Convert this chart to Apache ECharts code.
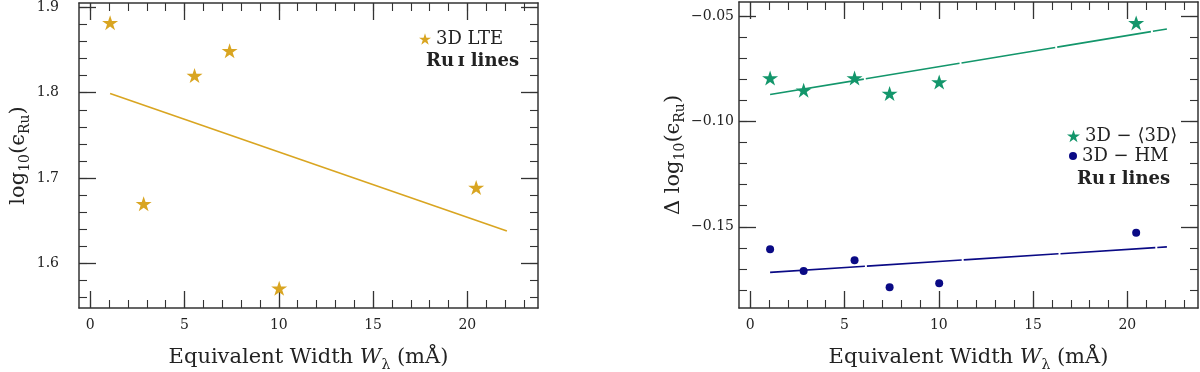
<!DOCTYPE html>
<html>
<head>
<meta charset="utf-8">
<script src="https://cdn.jsdelivr.net/npm/echarts@6/dist/echarts.min.js"></script>
<style>
  html, body { margin: 0; padding: 0; background: #fff; }
  #main { width: 1200px; height: 372px; }
</style>
</head>
<body>
<div id="main"></div>
<script>
// equivalent widths of the Ru I lines (mA)
var ewRu = [1.05, 2.83, 5.53, 7.39, 10.02, 20.47];
// left panel: 3D LTE abundances
var logLTE = [1.882, 1.670, 1.820, 1.849, 1.571, 1.689];
// right panel: abundance differences
var d3D = [-0.0794, -0.0852, -0.0794, -0.0868, -0.0813, -0.0533];
var dHM = [-0.1607, -0.1709, -0.1658, -0.1787, -0.1768, -0.1528];
// fitted lines (end points)
var fitX = [1.05, 22.1];
var fitLTE = [1.799, 1.638];
var fit3D = [-0.0873, -0.0562];
var fitHM = [-0.1716, -0.1595];
// ticks
var xMajor = [0, 5, 10, 15, 20];
var yMajorL = [1.6, 1.7, 1.8, 1.9];
var yMajorR = [-0.15, -0.10, -0.05];

var gold = '#d9a521';
var green = '#13966b';
var navy = '#0a0a85';
var ink = '#333';
var serif = 'DejaVu Serif';

function range(a, b, step) {
  var out = [];
  for (var v = a; v <= b + step / 2; v += step) out.push(+v.toFixed(4));
  return out;
}
var xMinor = range(0, 23, 1);
var yMinorL = range(1.56, 1.90, 0.02);
var yMinorR = range(-0.18, -0.05, 0.01);

// 5 point star marker
function starPath() {
  var pts = [];
  for (var i = 0; i < 10; i++) {
    var r = i % 2 ? 0.382 : 1;
    var a = (-90 + 36 * i) * Math.PI / 180;
    pts.push((50 + 50 * r * Math.cos(a)).toFixed(2) + ' ' + (50 + 50 * r * Math.sin(a)).toFixed(2));
  }
  return 'path://M' + pts.join(' L') + ' Z';
}
var star = starPath();

function pairs(xs, ys) {
  return xs.map(function (x, i) { return [x, ys[i]]; });
}

var xRange = { min: -0.6, max: 23.75 };
var frame = { show: true, onZero: false, lineStyle: { color: ink, width: 1.5 } };
var noLine = { show: false, onZero: false };

function xAxes(grid) {
  var base = { type: 'value', gridIndex: grid, min: xRange.min, max: xRange.max, splitLine: { show: false } };
  return [
    Object.assign({}, base, {
      position: 'bottom',
      axisLine: frame,
      axisTick: { show: true, inside: true, length: 17, customValues: xMajor, lineStyle: { color: ink, width: 1.3 } },
      axisLabel: { show: true, customValues: xMajor, margin: 10, fontFamily: serif, fontSize: 14, color: '#222' },
      name: '{n|Equivalent Width }{i|W}{s|λ}{n| (mÅ)}',
      nameLocation: 'middle',
      nameGap: 36,
      nameTextStyle: {
        rich: {
          n: { fontFamily: serif, fontSize: 21, color: '#222', lineHeight: 28 },
          i: { fontFamily: serif, fontSize: 21, fontStyle: 'italic', color: '#222', lineHeight: 28 },
          s: { fontFamily: serif, fontSize: 14, color: '#222', lineHeight: 12, verticalAlign: 'bottom' }
        }
      }
    }),
    Object.assign({}, base, {
      position: 'bottom',
      axisLine: noLine,
      axisTick: { show: true, inside: true, length: 8, customValues: xMinor, lineStyle: { color: ink, width: 1.1 } },
      axisLabel: { show: false }
    }),
    Object.assign({}, base, {
      position: 'top',
      axisLine: frame,
      axisTick: { show: true, inside: true, length: 17, customValues: xMajor, lineStyle: { color: ink, width: 1.3 } },
      axisLabel: { show: false }
    }),
    Object.assign({}, base, {
      position: 'top',
      axisLine: noLine,
      axisTick: { show: true, inside: true, length: 8, customValues: xMinor, lineStyle: { color: ink, width: 1.1 } },
      axisLabel: { show: false }
    })
  ];
}

function yAxes(grid, min, max, major, minor, digits, labelMargin, name, nameGap) {
  var base = { type: 'value', gridIndex: grid, min: min, max: max, splitLine: { show: false } };
  return [
    Object.assign({}, base, {
      position: 'left',
      axisLine: frame,
      axisTick: { show: true, inside: true, length: 17, customValues: major, lineStyle: { color: ink, width: 1.3 } },
      axisLabel: {
        show: true, customValues: major, margin: labelMargin, fontFamily: serif, fontSize: 14, color: '#222',
        formatter: function (v) { return v.toFixed(digits).replace('-', '\u2212'); }
      },
      name: name,
      nameLocation: 'middle',
      nameGap: nameGap,
      nameTextStyle: {
        rich: {
          n: { fontFamily: serif, fontSize: 21, color: '#222', lineHeight: 28 },
          s: { fontFamily: serif, fontSize: 14, color: '#222', lineHeight: 12, verticalAlign: 'bottom' }
        }
      }
    }),
    Object.assign({}, base, {
      position: 'left',
      axisLine: noLine,
      axisTick: { show: true, inside: true, length: 8, customValues: minor, lineStyle: { color: ink, width: 1.1 } },
      axisLabel: { show: false }
    }),
    Object.assign({}, base, {
      position: 'right',
      axisLine: frame,
      axisTick: { show: true, inside: true, length: 17, customValues: major, lineStyle: { color: ink, width: 1.3 } },
      axisLabel: { show: false }
    }),
    Object.assign({}, base, {
      position: 'right',
      axisLine: noLine,
      axisTick: { show: true, inside: true, length: 8, customValues: minor, lineStyle: { color: ink, width: 1.1 } },
      axisLabel: { show: false }
    })
  ];
}

var legendText = { fontFamily: serif, fontSize: 18, color: '#222' };
// "Ru I lines", the I as a small capital
var ruStyle = { text: 'Ru\u2009\u026a lines', fontFamily: serif, fontSize: 18, fontWeight: 'bold', fill: '#222' };

var chart = echarts.init(document.getElementById('main'));
var option = {
  backgroundColor: '#fff',
  animation: false,
  grid: [
    { left: 79, top: 3, width: 459, bottom: 64, outerBoundsMode: 'none', containLabel: false },
    { left: 739, top: 2, width: 459, bottom: 64, outerBoundsMode: 'none', containLabel: false }
  ],
  xAxis: xAxes(0).concat(xAxes(1)),
  yAxis: yAxes(0, 1.548, 1.905, yMajorL, yMinorL, 1, 20,
      '{n|log}{s|10}{n|(ϵ}{s|Ru}{n|)}', 36)
    .concat(yAxes(1, -0.1885, -0.0434, yMajorR, yMinorR, 2, 5,
      '{n|Δ log}{s|10}{n|(ϵ}{s|Ru}{n|)}', 43)),
  legend: [
    { data: [{ name: '3D LTE', icon: star }], left: 414, top: 25, itemWidth: 12, itemHeight: 12,
      itemGap: 4, textStyle: legendText, selectedMode: false },
    { data: [{ name: '3D \u2212 \u27e83D\u27e9', icon: star }], left: 1062, top: 122, itemWidth: 13, itemHeight: 13,
      textStyle: legendText, selectedMode: false },
    { data: [{ name: '3D \u2212 HM', icon: 'circle' }], left: 1064, top: 142, itemWidth: 8, itemHeight: 8,
      itemGap: 4, textStyle: legendText, selectedMode: false }
  ],
  graphic: [
    { type: 'text', left: 426, top: 52, style: ruStyle },
    { type: 'text', left: 1077, top: 170, style: ruStyle }
  ],
  series: [
    {
      name: '3D LTE', type: 'scatter', xAxisIndex: 0, yAxisIndex: 0,
      symbol: star, symbolSize: [16, 15], itemStyle: { color: gold, opacity: 1 },
      data: pairs(ewRu, logLTE)
    },
    {
      name: 'fit LTE', type: 'line', xAxisIndex: 0, yAxisIndex: 0, symbol: 'none',
      lineStyle: { color: gold, width: 1.6 }, data: pairs(fitX, fitLTE)
    },
    {
      name: '3D \u2212 \u27e83D\u27e9', type: 'scatter', xAxisIndex: 4, yAxisIndex: 4,
      symbol: star, symbolSize: [16, 15], itemStyle: { color: green, opacity: 1 },
      data: pairs(ewRu, d3D)
    },
    {
      name: 'fit 3D', type: 'line', xAxisIndex: 4, yAxisIndex: 4, symbol: 'none',
      lineStyle: { color: green, width: 1.6, type: [95, 2] }, data: pairs(fitX, fit3D)
    },
    {
      name: '3D \u2212 HM', type: 'scatter', xAxisIndex: 4, yAxisIndex: 4,
      symbol: 'circle', symbolSize: 8, itemStyle: { color: navy, opacity: 1 },
      data: pairs(ewRu, dHM)
    },
    {
      name: 'fit HM', type: 'line', xAxisIndex: 4, yAxisIndex: 4, symbol: 'none',
      lineStyle: { color: navy, width: 1.6, type: [95, 2] }, data: pairs(fitX, fitHM)
    }
  ]
};
chart.setOption(option);
</script>
</body>
</html>
